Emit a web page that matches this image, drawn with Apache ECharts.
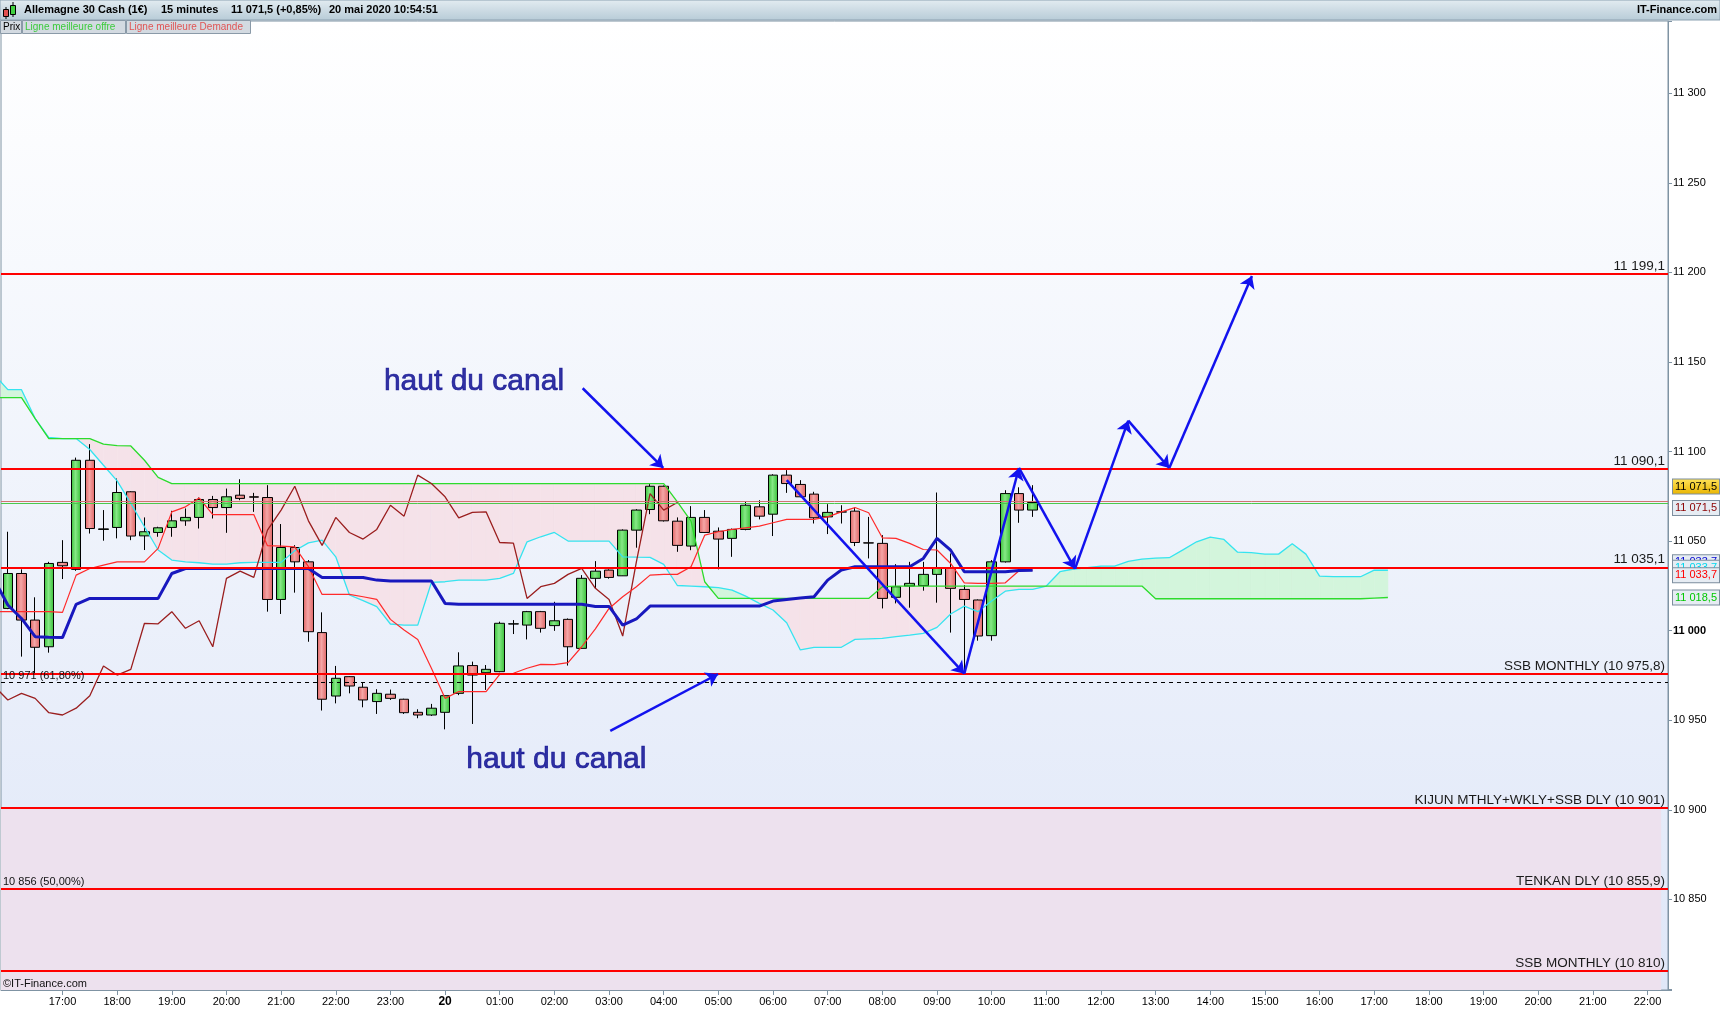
<!DOCTYPE html>
<html>
<head>
<meta charset="utf-8">
<script src="https://cdn.jsdelivr.net/npm/echarts@6/dist/echarts.min.js"></script>
<style>
html,body{margin:0;padding:0;background:#ffffff;}
#chart{width:1720px;height:1010px;}
</style>
</head>
<body>
<div id="chart"></div>
<script>
// ---------- DATA ----------
const categories = [
"16:00","16:15","16:30","16:45","17:00","17:15","17:30","17:45","18:00","18:15","18:30","18:45",
"19:00","19:15","19:30","19:45","20:00","20:15","20:30","20:45","21:00","21:15","21:30","21:45",
"22:00","22:15","22:30","22:45","23:00","23:15","23:30","23:45","00:00","00:15","00:30","00:45",
"01:00","01:15","01:30","01:45","02:00","02:15","02:30","02:45","03:00","03:15","03:30","03:45",
"04:00","04:15","04:30","04:45","05:00","05:15","05:30","05:45","06:00","06:15","06:30","06:45",
"07:00","07:15","07:30","07:45","08:00","08:15","08:30","08:45","09:00","09:15","09:30","09:45",
"10:00","10:15","10:30","10:45","11:00","11:15","11:30","11:45","12:00","12:15","12:30","12:45",
"13:00","13:15","13:30","13:45","14:00","14:15","14:30","14:45","15:00","15:15","15:30","15:45",
"16:00","16:15","16:30","16:45","17:00","17:15","17:30","17:45","18:00","18:15","18:30","18:45",
"19:00","19:15","19:30","19:45","20:00","20:15","20:30","20:45","21:00","21:15","21:30","21:45",
"22:00","22:15"];

const opens = [11012.4,11031.9,11005.9,10991.0,11038.1,11034.2,11095.1,11056.5,11057.6,11077.5,
11052.9,11054.8,11057.6,11061.3,11063.2,11073.2,11068.7,11075.6,11074.7,11074.3,
11017.4,11046.4,11038.4,10998.9,10963.5,10974.3,10968.4,10960.4,10964.5,10961.7,
10954.4,10952.9,10954.4,10965.0,10980.5,10976.5,10977.1,11003.7,11003.1,11010.6,
11002.8,11006.3,10990.1,11029.2,11033.8,11030.6,11056.1,11067.6,11080.6,11061.1,
11047.2,11063.2,11055.5,11051.5,11056.5,11069.1,11065.0,11086.8,11081.6,11076.2,
11063.5,11066.2,11066.7,11049.0,11048.7,11018.6,11024.9,11025.1,11031.4,11035.1,
11023.0,11017.1,10997.2,11038.4,11076.5,11067.3];
const closes = [11031.9,11005.9,10990.7,11037.5,11036.2,11095.1,11057.0,11056.8,11077.1,11052.8,
11055.2,11057.4,11061.3,11063.2,11073.2,11068.7,11074.7,11073.8,11074.5,11017.4,
11046.4,11038.4,10999.4,10961.7,10973.4,10969.1,10961.3,10965.0,10962.2,10954.2,
10952.9,10956.7,10963.7,10980.3,10975.2,10978.4,11004.1,11003.8,11010.6,11001.3,
11005.5,10991.0,11029.2,11033.2,11029.7,11056.1,11067.3,11080.6,11061.3,11047.6,
11063.2,11054.8,11051.1,11056.5,11070.0,11063.9,11086.8,11082.1,11074.7,11063.0,
11066.0,11066.3,11049.2,11048.9,11018.0,11024.5,11026.4,11031.4,11034.7,11023.6,
11017.4,10997.0,11038.4,11076.5,11067.3,11071.5];
const lows = [11012.0,10985.5,10976.2,10987.7,11028.8,11033.4,11054.2,11050.2,11051.5,11050.5,
11045.0,11052.4,11052.4,11058.5,11057.0,11062.6,11054.6,11072.8,11066.3,11010.6,
11009.3,11021.2,10993.8,10955.4,10959.4,10965.0,10957.2,10953.5,10961.3,10953.5,
10951.1,10952.4,10944.9,10964.0,10947.9,10966.9,10976.8,10998.1,10995.1,10998.9,
10999.9,10980.5,10990.0,11023.6,11029.0,11030.5,11046.3,11065.0,11060.9,11044.0,
11044.9,11054.6,11034.2,11041.2,11056.0,11062.1,11052.8,11076.9,11074.5,11059.8,
11053.9,11059.8,11047.2,11040.3,11012.4,11015.2,11012.8,11022.3,11015.6,10998.9,
10976.2,10994.4,10994.4,11038.0,11060.2,11063.5];
const highs = [11055.2,11034.2,11018.6,11038.4,11050.5,11096.6,11104.1,11067.3,11084.9,11077.8,
11063.2,11058.0,11066.9,11068.2,11074.3,11075.2,11079.3,11084.5,11076.9,11081.2,
11059.5,11047.7,11039.4,11010.2,10980.3,10974.5,10971.0,10967.3,10967.1,10962.0,
10956.1,10959.1,10964.0,10987.9,10982.7,10980.8,11005.0,11005.9,11011.0,11011.0,
11016.1,11006.8,11031.0,11038.8,11034.2,11056.5,11067.8,11081.8,11081.0,11063.2,
11069.5,11067.3,11057.6,11057.0,11071.9,11072.8,11087.3,11089.6,11084.0,11077.5,
11070.6,11070.0,11068.7,11063.5,11053.3,11037.1,11038.4,11038.4,11077.1,11043.1,
11025.4,11017.4,11039.4,11078.4,11080.0,11081.2];

// Ichimoku lines: first value sits one slot before the first candle (slot -1)
const LINE_START = -1;
const tenkan = [11010.6,
11010.6,11010.6,11010.6,11010.6,11010.2,11031.0,11034.7,11036.6,11038.4,11038.4,
11038.4,11045.9,11066.3,11069.1,11074.1,11064.8,11064.8,11064.8,11064.8,11047.4,
11047.2,11046.8,11035.7,11020.2,11020.2,11020.2,11018.9,11017.4,11006.3,11000.3,
10995.1,10979.0,10962.2,10966.0,10966.0,10966.0,10975.6,10976.2,10979.0,10981.2,
10981.0,10982.1,10991.0,11001.0,11012.4,11018.9,11024.5,11031.0,11031.4,11031.4,
11035.7,11053.3,11055.2,11056.5,11057.4,11058.3,11060.2,11062.1,11062.1,11062.1,
11063.5,11066.3,11068.7,11065.8,11051.8,11051.5,11048.7,11045.3,11045.0,11037.5,
11026.7,11026.4,11026.4,11026.7,11033.4,11033.7];
const kijun = [11028.5,
11014.3,11006.8,10996.6,10996.3,10996.1,11014.7,11018.0,11018.0,11018.0,11018.0,
11018.0,11018.0,11031.9,11034.7,11034.7,11034.7,11034.7,11034.7,11034.7,11034.7,
11034.7,11034.7,11034.7,11029.7,11029.7,11029.7,11029.7,11028.2,11027.7,11027.7,
11027.7,11027.7,11015.2,11014.7,11014.7,11014.7,11014.7,11014.7,11014.7,11014.7,
11014.7,11014.7,11014.7,11013.5,11013.5,11003.1,11006.5,11013.7,11013.7,11013.7,
11013.7,11013.7,11013.7,11013.7,11013.7,11013.7,11016.5,11017.4,11018.2,11018.9,
11028.2,11033.8,11035.7,11035.7,11035.7,11035.7,11035.7,11040.3,11051.5,11044.9,
11032.9,11032.9,11032.9,11032.9,11033.6,11033.7];
const chikou = [10969.1,
10961.3,10965.0,10962.2,10954.2,10952.9,10956.7,10963.7,10980.3,10975.2,10978.4,
11004.1,11003.8,11010.6,11001.3,11005.5,10991.0,11029.2,11033.2,11029.7,11056.1,
11067.3,11080.6,11061.3,11047.6,11063.2,11054.8,11051.1,11056.5,11070.0,11063.9,
11086.8,11082.1,11074.7,11063.0,11066.0,11066.3,11049.2,11048.9,11018.0,11024.5,
11026.4,11031.4,11034.7,11023.6,11017.4,10997.0,11038.4,11076.5,11067.3,11071.5];
const ssa = [11143.0,
11134.5,11134.5,11118.4,11107.8,11107.2,11107.2,11101.1,11092.3,11083.6,11071.0,
11058.0,11045.0,11039.4,11038.4,11037.9,11037.1,11037.1,11037.9,11038.1,11038.1,
11038.1,11044.6,11049.0,11050.5,11041.2,11019.9,11016.7,11013.4,11003.7,11003.1,
11003.1,11026.9,11027.3,11028.2,11028.2,11028.2,11029.2,11031.9,11049.6,11052.4,
11054.8,11050.0,11050.0,11050.0,11050.0,11041.2,11041.0,11040.9,11037.0,11025.2,
11024.9,11024.5,11024.0,11022.6,11019.3,11015.2,11011.5,11004.4,10989.2,10990.7,
10990.7,10990.7,10995.1,10995.4,10995.7,10996.6,10997.5,10998.5,11001.8,11009.3,
11013.7,11010.6,11016.5,11022.0,11023.0,11023.0,11024.9,11032.9,11034.4,11035.1,
11036.0,11036.0,11038.6,11039.9,11040.5,11040.7,11045.1,11049.6,11052.2,11050.9,
11043.8,11043.5,11042.7,11042.7,11048.5,11042.7,11030.4,11030.1,11030.1,11030.1,
11033.8,11033.7];
const ssb = [11130.1,
11130.1,11130.1,11118.4,11107.2,11107.2,11107.2,11107.2,11104.1,11103.3,11103.1,
11095.1,11085.5,11082.1,11082.1,11082.1,11082.1,11082.1,11082.1,11082.1,11082.1,
11082.1,11082.1,11082.1,11082.1,11082.1,11082.1,11082.1,11082.1,11082.1,11082.1,
11082.1,11082.1,11082.1,11082.1,11082.1,11082.1,11082.1,11082.1,11082.1,11082.1,
11082.1,11082.1,11082.1,11082.1,11082.1,11082.1,11082.1,11082.1,11082.1,11071.9,
11061.1,11027.3,11018.0,11018.0,11018.0,11018.0,11018.0,11018.0,11018.0,11018.0,
11018.0,11018.0,11018.0,11018.0,11024.5,11024.9,11024.9,11024.9,11024.9,11024.9,
11024.9,11024.9,11024.9,11024.9,11024.9,11024.9,11024.9,11024.9,11024.9,11024.9,
11024.9,11024.9,11024.9,11024.9,11017.8,11017.8,11017.8,11017.8,11017.8,11017.8,
11017.8,11017.8,11017.8,11017.8,11017.8,11017.8,11017.8,11017.8,11017.8,11017.8,
11018.2,11018.5];

const levelValues = [11199.1, 11090.1, 11035.1, 10975.8, 10901, 10855.9, 10810];
const levelTexts = ['11 199,1','11 090,1','11 035,1','SSB MONTHLY (10 975,8)',
  'KIJUN MTHLY+WKLY+SSB DLY (10 901)','TENKAN DLY (10 855,9)','SSB MONTHLY (10 810)'];
const fibValues = [10971, 10856];
const fibTexts = ['10 971 (61,80%)', '10 856 (50,00%)'];
const zoneTop = 10901;
const bidValue = 11072.3, askValue = 11071.3;
const tagValues = [11071.5, 11072.3, 11033.7, 11033.7, 11033.7, 11018.5];
const tagTexts = ['11 071,5','11 071,5','11 033,7','11 033,7','11 033,7','11 018,5'];
const projection = [[57,11084],[70,10976],[74,11090.8],[78.1,11034.5],[82,11117.2],[85,11090.8],[91.05,11198]];
const channelArrows = [[[42.07,11135.3],[47.97,11090.8]], [[44.09,10944.1],[51.98,10975.8]]];
const noteTexts = ['haut du canal', 'haut du canal'];
const notePos = [[27.56, 11138.6], [33.59, 10927.8]];

// ---------- STYLE ----------
const FONT = 'Liberation Sans, Arial, sans-serif';
const Y_MIN = 10799.4, Y_MAX = 11340.3;
const tagStyles = [
  {color:'#000000', bg:{type:'linear',x:0,y:0,x2:0,y2:1,colorStops:[{offset:0,color:'#FFE35A'},{offset:1,color:'#E9B400'}]}, dy:-16},
  {color:'#8B0000', bg:'#E6ECF3', dy:7},
  {color:'#0000D0', bg:'#E6ECF3', dy:-8},
  {color:'#00D8EE', bg:'#E6ECF3', dy:-2.5},
  {color:'#FF0000', bg:'#E6ECF3', dy:5},
  {color:'#00C800', bg:'#E6ECF3', dy:0}
];
const PINK = '#F5E2E9', GREENFILL = '#D3F5DC';

function fmtNum(v){ const s = String(Math.round(v)); return s.slice(0,-3) + ' ' + s.slice(-3); }

const chart = echarts.init(document.getElementById('chart'), null, {renderer:'canvas'});

const candleData = opens.map((o,k) => [o, closes[k], lows[k], highs[k]]);
const pairs = arr => arr.map((v,k) => [k + LINE_START, v]);
const cloudData = ssa.map((v,k) => [k + LINE_START, v, ssb[k]]);

function renderCloud(params, api){
  const k = params.dataIndex;
  if (k >= ssa.length - 1) return null;
  const x0 = k + LINE_START, x1 = x0 + 1;
  const a0 = ssa[k], b0 = ssb[k], a1 = ssa[k+1], b1 = ssb[k+1];
  const pa0 = api.coord([x0,a0]), pb0 = api.coord([x0,b0]);
  const pa1 = api.coord([x1,a1]), pb1 = api.coord([x1,b1]);
  const d0 = a0 - b0, d1 = a1 - b1;
  const col = d => d >= 0 ? GREENFILL : PINK;
  const children = [];
  const poly = (pts, c) => ({type:'polygon', shape:{points:pts}, style:{fill:c, stroke:c, lineWidth:0.6}});
  if (d0 * d1 >= 0) {
    children.push(poly([pa0,pa1,pb1,pb0], col(d0 !== 0 ? d0 : d1)));
  } else {
    const t = d0 / (d0 - d1);
    const px = [pa0[0] + t*(pa1[0]-pa0[0]), pa0[1] + t*(pa1[1]-pa0[1])];
    children.push(poly([pa0,px,pb0], col(d0)));
    children.push(poly([px,pa1,pb1], col(d1)));
  }
  return {type:'group', children};
}

const lineSeries = (name, arr, color, width, z) => ({
  name, type:'line', xAxisIndex:1, yAxisIndex:0, data: pairs(arr), showSymbol:false, symbol:'none',
  clip:true, silent:true, z, lineStyle:{color, width}, emphasis:{disabled:true}
});

const projSegments = [];
for (let k = 0; k < projection.length - 1; k++) {
  projSegments.push([{coord: projection[k]}, {coord: projection[k+1]}]);
}

const hourTick = (i, v) => i > 0 && v.endsWith(':00');

const option = {
  animation:false,
  backgroundColor:'#ffffff',
  textStyle:{fontFamily:FONT},
  grid:{
    left:1, right:52, top:21, bottom:20, show:true, containLabel:false, outerBoundsMode:'none',
    backgroundColor:{type:'linear',x:0,y:0,x2:0,y2:1,colorStops:[{offset:0,color:'#FFFFFF'},{offset:1,color:'#DFE7F8'}]},
    borderColor:'#7F93A3', borderWidth:1
  },
  xAxis:[{
    type:'category', data:categories, boundaryGap:true,
    axisLine:{show:true, onZero:false, lineStyle:{color:'#7F93A3'}},
    axisTick:{show:true, alignWithLabel:true, length:5, interval:hourTick, lineStyle:{color:'#7F93A3'}},
    axisLabel:{interval:hourTick, margin:6, color:'#000', fontSize:11, fontFamily:FONT,
      formatter: v => v === '00:00' ? '{b|20}' : v,
      rich:{b:{fontWeight:'bold', fontSize:12, color:'#000', fontFamily:FONT}}},
    splitLine:{show:false}
  },{
    type:'value', min:-0.5, max:121.5, show:false,
    axisLine:{show:false, onZero:false}, axisTick:{show:false}, axisLabel:{show:false}, splitLine:{show:false}
  }],
  yAxis:{
    type:'value', position:'right', min:Y_MIN, max:Y_MAX, splitNumber:11,
    axisLine:{show:true, onZero:false, lineStyle:{color:'#7F93A3'}},
    axisTick:{show:true, length:4, lineStyle:{color:'#7F93A3'}},
    axisLabel:{margin:5, color:'#000', fontSize:11, fontFamily:FONT,
      formatter: v => {
        const r = Math.round(v);
        if (Math.abs(v - r) > 1e-6 || r % 50 !== 0 || r < 10820) return '';
        return r === 11000 ? '{b|11 000}' : fmtNum(r);
      },
      rich:{b:{fontWeight:'bold', fontSize:11, color:'#000', fontFamily:FONT}}},
    splitLine:{show:false}
  },
  series:[
    { // ichimoku cloud
      type:'custom', xAxisIndex:1, yAxisIndex:0, data:cloudData, encode:{x:0, y:[1,2]},
      renderItem:renderCloud, clip:true, silent:true, z:2
    },
    { // shaded zone below the monthly kijun level
      type:'line', xAxisIndex:1, yAxisIndex:0, data:[], silent:true, z:1,
      markArea:{silent:true, itemStyle:{color:'#EDE1EE'},
        data:[[{coord:[-0.5, zoneTop]},{coord:[121, Y_MIN]}]]}
    },
    {
      type:'candlestick', xAxisIndex:0, yAxisIndex:0, data:candleData, barWidth:10, z:3, silent:true,
      itemStyle:{
        color:{type:'linear',x:0,y:0,x2:1,y2:0,colorStops:[{offset:0,color:'#36BE36'},{offset:0.45,color:'#86E886'},{offset:1,color:'#36BE36'}]},
        color0:{type:'linear',x:0,y:0,x2:1,y2:0,colorStops:[{offset:0,color:'#DE6262'},{offset:0.45,color:'#F4A6A6'},{offset:1,color:'#DE6262'}]},
        borderColor:'#000', borderColor0:'#000', borderWidth:1
      }
    },
    lineSeries('SSA', ssa, '#35E4F0', 1.3, 4),
    lineSeries('SSB', ssb, '#2CDC2C', 1.3, 4),
    lineSeries('Chikou', chikou, '#9A1E1E', 1.3, 4),
    lineSeries('Tenkan', tenkan, '#FF2A2A', 1.2, 4),
    lineSeries('Kijun', kijun, '#1818BE', 3, 4),
    { // fibonacci dashed lines
      type:'line', xAxisIndex:1, yAxisIndex:0, data:[], silent:true, z:5,
      markLine:{silent:true, symbol:['none','none'], animation:false,
        lineStyle:{color:'#000', width:1, type:[4,4]},
        label:{show:true, position:'insideStartTop', distance:[2,1], color:'#111', fontSize:11, fontFamily:FONT,
          formatter: p => fibTexts[fibValues.indexOf(p.value)] },
        data: fibValues.map(v => ({yAxis:v}))}
    },
    { // bid / ask lines
      type:'line', xAxisIndex:1, yAxisIndex:0, data:[], silent:true, z:5,
      markLine:{silent:true, symbol:['none','none'], animation:false, label:{show:false},
        data:[{yAxis:bidValue, lineStyle:{color:'#D27272', width:1, type:'solid'}},
              {yAxis:askValue, lineStyle:{color:'#4CC84C', width:1, type:'solid'}}]}
    },
    { // red levels
      type:'line', xAxisIndex:1, yAxisIndex:0, data:[], silent:true, z:6,
      markLine:{silent:true, symbol:['none','none'], animation:false,
        lineStyle:{color:'#FF0000', width:2, type:'solid'},
        label:{show:true, position:'insideEndTop', distance:[3,1], color:'#1A1A1A', fontSize:13.5, fontFamily:FONT,
          formatter: p => levelTexts[levelValues.indexOf(p.value)] },
        data: levelValues.map(v => ({yAxis:v}))}
    },
    { // price tags on the right axis
      type:'line', xAxisIndex:1, yAxisIndex:0, data:[], silent:true, z:7,
      markLine:{silent:true, symbol:['none','none'], animation:false,
        lineStyle:{color:'rgba(0,0,0,0)', width:1, type:'solid'},
        data: tagValues.map((v,k) => ({yAxis:v,
          label:{show:true, position:'end', distance:5, offset:[0, tagStyles[k].dy], formatter: tagTexts[k],
            color:tagStyles[k].color, backgroundColor:tagStyles[k].bg, borderColor:'#7D8E9E', borderWidth:1,
            padding:[1,2,1,2], fontSize:11, fontFamily:FONT, lineHeight:12}}))}
    },
    { // channel arrows
      type:'line', xAxisIndex:1, yAxisIndex:0, data:[], silent:true, z:8,
      markLine:{silent:true, animation:false, symbol:['none','arrow'], symbolSize:12,
        lineStyle:{color:'#1212EE', width:2.5, type:'solid'}, itemStyle:{color:'#1212EE'},
        label:{show:false},
        data: projSegments.concat(channelArrows.map(s => [{coord:s[0]},{coord:s[1]}]))}
    },
    { // notes
      type:'scatter', xAxisIndex:1, yAxisIndex:0, data:notePos, symbolSize:1, silent:true, z:8,
      itemStyle:{color:'rgba(0,0,0,0)'},
      label:{show:true, position:[0,0], align:'left', verticalAlign:'middle',
        formatter: p => noteTexts[p.dataIndex], fontSize:30, color:'#00008C', fontFamily:FONT,
        textBorderColor:'#00008C', textBorderWidth:0.7}
    }
  ],
  graphic:[
    {type:'rect', z:100, shape:{x:0,y:0,width:1720,height:20},
      style:{fill:{type:'linear',x:0,y:0,x2:0,y2:1,colorStops:[{offset:0,color:'#E3ECF1'},{offset:1,color:'#B7CBD7'}]}, stroke:'#8CA1B1', lineWidth:1}},
    {type:'line', z:101, shape:{x1:6,y1:7,x2:6,y2:19}, style:{stroke:'#000',lineWidth:1}},
    {type:'rect', z:102, shape:{x:3.5,y:9.5,width:5,height:7}, style:{fill:'#E05050',stroke:'#000',lineWidth:1}},
    {type:'line', z:101, shape:{x1:13,y1:2,x2:13,y2:17}, style:{stroke:'#000',lineWidth:1}},
    {type:'rect', z:102, shape:{x:10.5,y:5.5,width:5,height:9}, style:{fill:'#40D040',stroke:'#000',lineWidth:1}},
    {type:'text', z:103, x:24, y:10, style:{text:'Allemagne 30 Cash (1€)', font:'bold 11px '+FONT, fill:'#000', verticalAlign:'middle'}},
    {type:'text', z:103, x:161, y:10, style:{text:'15 minutes', font:'bold 11px '+FONT, fill:'#000', verticalAlign:'middle'}},
    {type:'text', z:103, x:231, y:10, style:{text:'11 071,5 (+0,85%)', font:'bold 11px '+FONT, fill:'#000', verticalAlign:'middle'}},
    {type:'text', z:103, x:329, y:10, style:{text:'20 mai 2020 10:54:51', font:'bold 11px '+FONT, fill:'#000', verticalAlign:'middle'}},
    {type:'text', z:103, x:1717, y:10, style:{text:'IT-Finance.com', font:'bold 11px '+FONT, fill:'#000', align:'right', verticalAlign:'middle'}},
    {type:'rect', z:100, shape:{x:0.5,y:20.5,width:21,height:13}, style:{fill:'#D3DAE1',stroke:'#8A9AA8',lineWidth:1}},
    {type:'text', z:103, x:3, y:27.5, style:{text:'Prix', font:'10px '+FONT, fill:'#000', verticalAlign:'middle'}},
    {type:'rect', z:100, shape:{x:22.5,y:20.5,width:103,height:13}, style:{fill:'#D3DAE1',stroke:'#8A9AA8',lineWidth:1}},
    {type:'text', z:103, x:25, y:27.5, style:{text:'Ligne meilleure offre', font:'10px '+FONT, fill:'#3CCB3C', verticalAlign:'middle'}},
    {type:'rect', z:100, shape:{x:126.5,y:20.5,width:124,height:13}, style:{fill:'#D3DAE1',stroke:'#8A9AA8',lineWidth:1}},
    {type:'text', z:103, x:129, y:27.5, style:{text:'Ligne meilleure Demande', font:'10px '+FONT, fill:'#E05555', verticalAlign:'middle'}},
    {type:'text', z:103, x:3, y:984, style:{text:'©IT-Finance.com', font:'11px '+FONT, fill:'#111', verticalAlign:'middle'}}
  ]
};
chart.setOption(option);
</script>
</body>
</html>
